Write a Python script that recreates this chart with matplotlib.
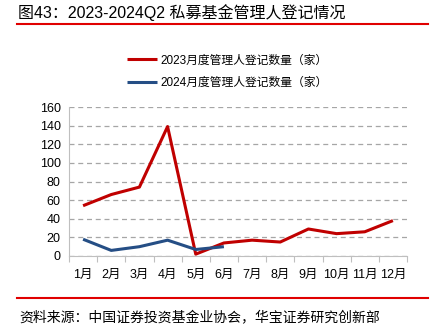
import matplotlib
matplotlib.use("Agg")
import matplotlib.pyplot as plt
from matplotlib.lines import Line2D
import numpy as np

plt.rcParams['font.family'] = ['Liberation Sans', 'Noto Sans CJK SC']

# 数据
months = ['1月', '2月', '3月', '4月', '5月', '6月', '7月', '8月', '9月', '10月', '11月', '12月']
reg_2023 = [54, 66, 74, 139, 2, 14, 17, 15, 29, 24, 26, 38]
reg_2024 = [18, 6, 10, 17, 7, 10]
yticks = [0, 20, 40, 60, 80, 100, 120, 140, 160]

W, H = 437, 336
fig = plt.figure(figsize=(W / 100, H / 100), dpi=100)
ax = fig.add_axes([69 / W, 1 - 256 / H, (407 - 69) / W, (256 - 107) / H])

x = np.arange(len(months))
ax.plot(x, reg_2023, color='#C00000', lw=2.2, label='2023月度管理人登记数量（家）', solid_capstyle='butt')
ax.plot(np.arange(len(reg_2024)), reg_2024, color='#254E85', lw=2.2,
        label='2024月度管理人登记数量（家）', solid_capstyle='butt')

ax.set_xlim(-0.5, len(months) - 0.5)
ax.set_ylim(0, 160)
ax.set_yticks(yticks)
ax.tick_params(axis='y', length=0, labelsize=9, pad=6)
ax.set_xticks(x)
ax.set_xticklabels(months)
ax.tick_params(axis='x', which='major', length=0, labelsize=9, pad=9)
ax.set_xticks(np.arange(-0.5, len(months)), minor=True)
ax.tick_params(axis='x', which='minor', length=4, color='#BFBFBF', width=0.8)

ax.grid(axis='y', color='#A6A6A6', ls=(0, (4, 3)), lw=0.9)
ax.set_axisbelow(True)
for s in ['top', 'right']:
    ax.spines[s].set_visible(False)
ax.spines['left'].set_color('#BFBFBF')
ax.spines['bottom'].set_color('#BFBFBF')

# 图例
leg = fig.legend(loc='upper left', bbox_to_anchor=(116 / W, 1 - 44 / H), frameon=False,
                 fontsize=8.5, handlelength=2.6, labelspacing=0.9, handletextpad=0.3)
for h in leg.get_lines():
    h.set_linewidth(2.2)

# 标题与来源
fig.text(18 / W, 1 - 13 / H, '图43：2023-2024Q2 私募基金管理人登记情况', fontsize=11.5, va='center')
fig.add_artist(Line2D([17 / W, 428 / W], [1 - 24 / H, 1 - 24 / H], color='#E00000', lw=1.5))
fig.add_artist(Line2D([17 / W, 428 / W], [1 - 298 / H, 1 - 298 / H], color='#E00000', lw=1.5))
fig.text(19 / W, 1 - 318 / H, '资料来源：中国证券投资基金业协会，华宝证券研究创新部', fontsize=10, va='center')

fig.savefig('out.png', dpi=100)
